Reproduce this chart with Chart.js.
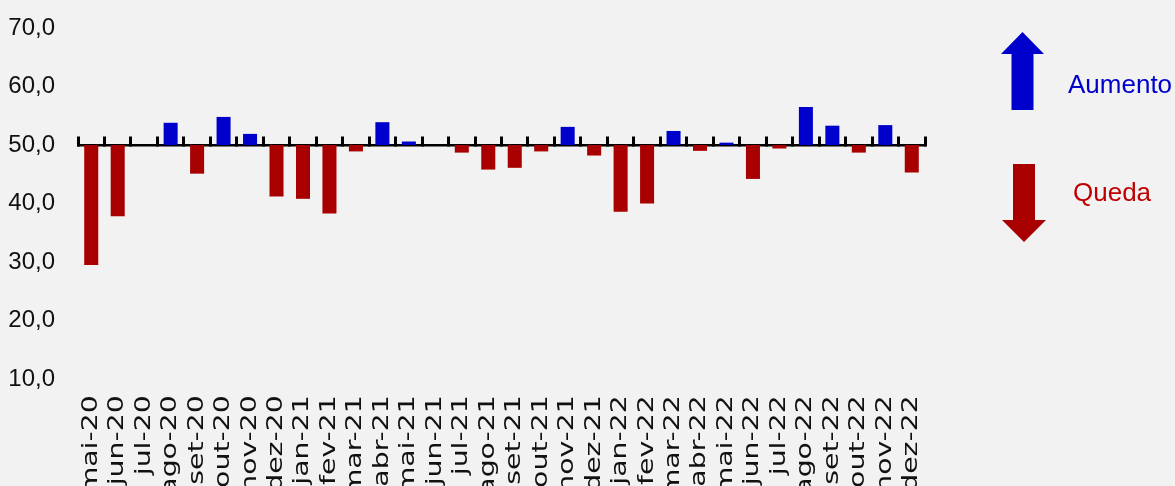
<!DOCTYPE html>
<html>
<head>
<meta charset="utf-8">
<script src="https://cdn.jsdelivr.net/npm/chart.js@4"></script>
<style>
  html, body { margin: 0; padding: 0; background: #f2f2f2; overflow: hidden; }
  #wrap { width: 1175px; height: 486px; position: relative; }
</style>
</head>
<body>
<div id="wrap"><canvas id="indexChart"></canvas></div>
<script>
var months = ['mai-20', 'jun-20', 'jul-20', 'ago-20', 'set-20', 'out-20', 'nov-20', 'dez-20',
  'jan-21', 'fev-21', 'mar-21', 'abr-21', 'mai-21', 'jun-21', 'jul-21', 'ago-21', 'set-21', 'out-21', 'nov-21', 'dez-21',
  'jan-22', 'fev-22', 'mar-22', 'abr-22', 'mai-22', 'jun-22', 'jul-22', 'ago-22', 'set-22', 'out-22', 'nov-22', 'dez-22'];
var indexValues = [29.5, 37.8, 50.0, 53.8, 45.1, 54.8, 51.9, 41.2,
  40.8, 38.3, 48.9, 53.9, 50.6, 50.0, 48.7, 45.8, 46.1, 48.9, 53.1, 48.2,
  38.6, 40.0, 52.4, 49.0, 50.4, 44.2, 49.4, 56.5, 53.3, 48.7, 53.4, 45.3];
var baseLine = 50;
var yTicks = [10, 20, 30, 40, 50, 60, 70];
var legendLabels = ['Aumento', 'Queda'];

var BLUE = '#0000cc';
var RED = '#a80000';
var LABEL_STRETCH = 1.35;

// x labels in the picture are drawn stretched along their length
var stretchLabels = {
  id: 'stretchLabels',
  beforeDraw: function (chart) {
    var sc = chart.scales.x;
    if (sc._stretched) return;
    var orig = sc.drawLabels;
    sc.drawLabels = function (area) {
      var ctx = this.ctx;
      ctx.save();
      ctx.translate(0, this.top);
      ctx.scale(1, LABEL_STRETCH);
      ctx.translate(0, -this.top);
      orig.call(this, area);
      ctx.restore();
    };
    sc._stretched = true;
  }
};

// arrows + text on the right
var arrowLegend = {
  id: 'arrowLegend',
  afterDraw: function (chart) {
    var ctx = chart.ctx;
    var r = chart.chartArea.right;
    ctx.save();
    // up arrow
    var cx = r + 97.5;
    ctx.fillStyle = BLUE;
    ctx.beginPath();
    ctx.moveTo(cx, 32);
    ctx.lineTo(cx + 21.5, 54);
    ctx.lineTo(cx + 11, 54);
    ctx.lineTo(cx + 11, 110);
    ctx.lineTo(cx - 11, 110);
    ctx.lineTo(cx - 11, 54);
    ctx.lineTo(cx - 21.5, 54);
    ctx.closePath();
    ctx.fill();
    // down arrow
    cx = r + 99;
    ctx.fillStyle = RED;
    ctx.beginPath();
    ctx.moveTo(cx - 11, 164);
    ctx.lineTo(cx + 11, 164);
    ctx.lineTo(cx + 11, 220);
    ctx.lineTo(cx + 22, 220);
    ctx.lineTo(cx, 242);
    ctx.lineTo(cx - 22, 220);
    ctx.lineTo(cx - 11, 220);
    ctx.closePath();
    ctx.fill();

    ctx.font = '26px "Liberation Sans", Arial, sans-serif';
    ctx.textBaseline = 'alphabetic';
    ctx.textAlign = 'left';
    ctx.fillStyle = BLUE;
    ctx.fillText(legendLabels[0], r + 143, 93);
    ctx.fillStyle = '#c00000';
    ctx.fillText(legendLabels[1], r + 148, 201);
    ctx.restore();
  }
};

function noPad(scale) {
  scale.paddingTop = 0;
  scale.paddingBottom = 0;
  scale.paddingLeft = 0;
  scale.paddingRight = 0;
}

var ctxEl = document.getElementById('indexChart');

var barChart = new Chart(ctxEl, {
  type: 'bar',
  data: {
    labels: months,
    datasets: [{
      label: 'Índice',
      data: indexValues,
      base: baseLine,
      backgroundColor: indexValues.map(function (v) { return v >= baseLine ? BLUE : RED; }),
      borderWidth: 0,
      barPercentage: 0.53,
      categoryPercentage: 1.0,
      xAxisID: 'x',
      yAxisID: 'y'
    }]
  },
  options: {
    responsive: true,
    maintainAspectRatio: false,
    animation: false,
    layout: {
      padding: { left: 0, right: 250, top: 28, bottom: 0 }
    },
    plugins: {
      legend: { display: false },
      tooltip: { enabled: false }
    },
    scales: {
      x: {
        type: 'category',
        position: 'bottom',
        offset: true,
        grid: { display: false, drawTicks: false },
        border: { display: false },
        ticks: {
          autoSkip: false,
          minRotation: 90,
          maxRotation: 90,
          padding: 12,
          color: '#111',
          font: { family: '"DejaVu Sans", sans-serif', size: 21 }
        },
        afterFit: function (scale) { scale.height = 107; noPad(scale); }
      },
      xb: {
        type: 'category',
        position: { y: baseLine },
        offset: true,
        grid: {
          display: true,
          offset: true,
          drawOnChartArea: false,
          drawTicks: true,
          tickLength: -10,
          tickWidth: 3,
          tickColor: '#000'
        },
        border: { display: true, color: '#000', width: 2.5 },
        ticks: { display: false },
        afterFit: noPad
      },
      y: {
        min: 10,
        max: 70,
        afterBuildTicks: function (scale) {
          scale.ticks = yTicks.map(function (v) { return { value: v }; });
        },
        grid: { display: false, drawTicks: false },
        border: { display: false },
        ticks: {
          padding: 23,
          color: '#111',
          font: { family: '"Liberation Sans", Arial, sans-serif', size: 24 },
          callback: function (v) { return Number(v).toFixed(1).replace('.', ','); }
        },
        afterFit: function (scale) { scale.width = 78; noPad(scale); }
      }
    }
  },
  plugins: [stretchLabels, arrowLegend]
});
</script>
</body>
</html>
